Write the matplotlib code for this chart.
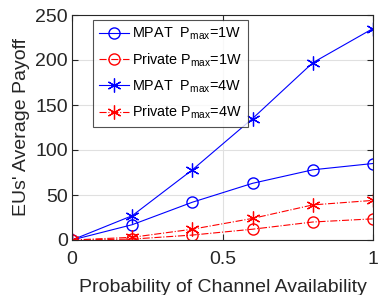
import matplotlib
matplotlib.use('Agg')
import matplotlib.pyplot as plt

plt.rcParams['font.family'] = ['Liberation Sans', 'DejaVu Sans']
plt.rcParams['mathtext.fontset'] = 'custom'
plt.rcParams['mathtext.rm'] = 'Liberation Sans'
plt.rcParams['mathtext.it'] = 'Liberation Sans'

prob = [0, 0.2, 0.4, 0.6, 0.8, 1.0]
mpat_1w = [0, 17, 42, 63, 78, 85]
private_1w = [0, 1, 5.5, 12, 20, 23.5]
mpat_4w = [0, 27, 78, 135, 197, 235]
private_4w = [0, 3, 12, 24, 39, 44]

labels = [r'MPAT  P$_{\mathrm{max}}$=1W', r'Private P$_{\mathrm{max}}$=1W',
          r'MPAT  P$_{\mathrm{max}}$=4W', r'Private P$_{\mathrm{max}}$=4W']

fig = plt.figure(figsize=(3.81, 2.95), dpi=100)
ax = fig.add_axes([72 / 381, 1 - 240 / 295, 301 / 381, 225 / 295])

# matlab style asterisk
star = (6, 2, 0)
ax.plot(prob, mpat_1w, '-', color='blue', marker='o', mfc='none', ms=8, lw=0.8, label=labels[0])
ax.plot(prob, private_1w, '-.', color='red', marker='o', mfc='none', ms=8, lw=0.8, label=labels[1])
ax.plot(prob, mpat_4w, '-', color='blue', marker=star, ms=10, mew=0.9, lw=0.8, label=labels[2])
ax.plot(prob, private_4w, '-.', color='red', marker=star, ms=10, mew=0.9, lw=0.8, label=labels[3])

ax.set_xlim(0, 1)
ax.set_ylim(0, 250)
ax.set_xticks([0, 0.5, 1])
ax.set_xticklabels(['0', '0.5', '1'])
ax.set_yticks([0, 50, 100, 150, 200, 250])
ax.grid(True, color='#e0e0e0', lw=0.8)
ax.set_axisbelow(True)
ax.tick_params(direction='in', top=True, right=True, labelsize=14, colors='#262626', length=4)
ax.tick_params(axis='x', pad=8)
ax.tick_params(axis='y', pad=3)
for s in ax.spines.values():
    s.set_color('#262626')
    s.set_linewidth(0.8)

ax.set_xlabel('Probability of Channel Availability', fontsize=14, color='#262626', labelpad=8)
ax.set_ylabel("EUs' Average Payoff", fontsize=14, color='#262626', labelpad=4)

leg = ax.legend(loc='upper left', bbox_to_anchor=(0.07, 0.978), borderaxespad=0, fontsize=10.4,
                frameon=True, fancybox=False, edgecolor='#262626', handlelength=2.1,
                labelspacing=0.65, borderpad=0.4, handletextpad=0.2)
leg.get_frame().set_linewidth(0.8)

fig.savefig('out.png', dpi=100)
